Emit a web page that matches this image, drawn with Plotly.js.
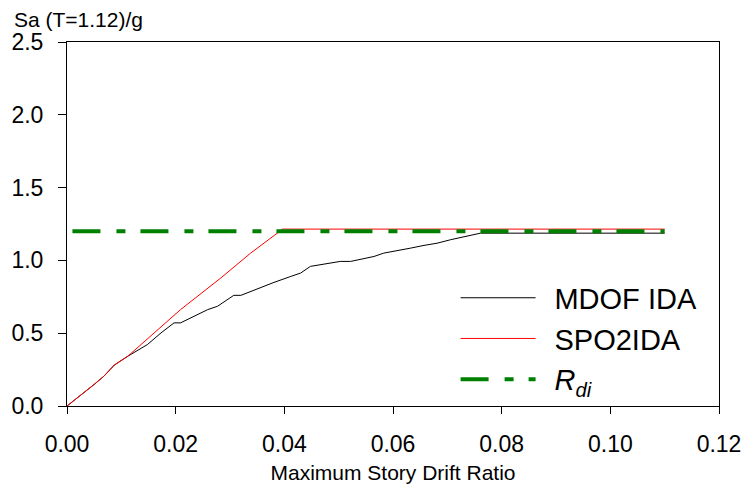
<!DOCTYPE html>
<html>
<head>
<meta charset="utf-8">
<script src="https://cdn.plot.ly/plotly-3.0.1.min.js"></script>
<style>html,body{margin:0;padding:0;background:#fff;}#chart{width:743px;height:484px;}</style>
</head>
<body>
<div id="chart"></div>
<script>
// MDOF IDA curve (max story drift ratio, Sa/g)
const mdofDrift = [0, 0.0032, 0.005, 0.0068, 0.0087, 0.0112, 0.0148, 0.0173, 0.0197, 0.0209, 0.024, 0.0259, 0.0277, 0.0307, 0.032, 0.035, 0.0381, 0.0412, 0.043, 0.0448, 0.0467, 0.0485, 0.0503, 0.0522, 0.0546, 0.0565, 0.0583, 0.0608, 0.0632, 0.0657, 0.0681, 0.0706, 0.0736, 0.0761, 0.11];
const mdofSa    = [0, 0.091, 0.148, 0.205, 0.281, 0.342, 0.422, 0.502, 0.571, 0.571, 0.628, 0.662, 0.685, 0.76, 0.76, 0.806, 0.849, 0.89, 0.913, 0.959, 0.970, 0.982, 0.993, 0.993, 1.011, 1.027, 1.05, 1.066, 1.084, 1.103, 1.118, 1.142, 1.164, 1.187, 1.187];
// SPO2IDA curve
const spoDrift = [0, 0.0032, 0.005, 0.0068, 0.0087, 0.0112, 0.0209, 0.0283, 0.0338, 0.0387, 0.0396, 0.11];
const spoSa    = [0, 0.091, 0.148, 0.205, 0.281, 0.342, 0.662, 0.879, 1.05, 1.187, 1.215, 1.215];
// R_di level
const rdiDrift = [0.001, 0.11];
const rdiSa    = [1.2, 1.2];
// tick labels
const xTicks = [0, 0.02, 0.04, 0.06, 0.08, 0.10, 0.12];
const xTickText = ["0.00", "0.02", "0.04", "0.06", "0.08", "0.10", "0.12"];
const yTicks = [0, 0.5, 1.0, 1.5, 2.0, 2.5];
const yTickText = ["0.0", "0.5", "1.0", "1.5", "2.0", "2.5"];

const FONT = "Arial, 'Liberation Sans', sans-serif";

const traces = [
  {x: mdofDrift, y: mdofSa, mode: "lines", name: "\u00a0\u2009MDOF IDA",
   line: {color: "#000000", width: 1}},
  {x: spoDrift, y: spoSa, mode: "lines", name: "\u00a0\u2009SPO2IDA",
   line: {color: "#ff0000", width: 1}},
  {x: rdiDrift, y: rdiSa, mode: "lines", name: "\u00a0\u2009<i>R</i><sub><i>di</i></sub>",
   line: {color: "#008000", width: 4, dash: "28px,16px,9px,15px"}}
];

const layout = {
  width: 743, height: 484,
  margin: {l: 67, r: 24, t: 42, b: 78},
  paper_bgcolor: "#ffffff", plot_bgcolor: "#ffffff",
  font: {family: FONT, color: "#000000"},
  showlegend: true,
  legend: {x: 0.596, xanchor: "left", y: 0.367, yanchor: "top",
           font: {size: 29, family: FONT}, itemwidth: 75, tracegroupgap: 0,
           bgcolor: "rgba(0,0,0,0)", borderwidth: 0},
  xaxis: {range: [0, 0.12], tickvals: xTicks, ticktext: xTickText,
          showgrid: false, zeroline: false, showline: true, linecolor: "#000", linewidth: 1,
          mirror: true, ticks: "outside", ticklen: 7, tickcolor: "#000",
          tickfont: {size: 23, family: FONT}, ticklabelstandoff: 10,
          title: {text: "Maximum Story Drift Ratio", font: {size: 21, family: FONT}, standoff: 13}},
  yaxis: {range: [0, 2.5], tickvals: yTicks, ticktext: yTickText,
          showgrid: false, zeroline: false, showline: true, linecolor: "#000", linewidth: 1,
          mirror: true, ticks: "outside", ticklen: 8, tickcolor: "#000",
          tickfont: {size: 23, family: FONT}, ticklabelstandoff: 10},
  annotations: [{text: "Sa (T=1.12)/g", xref: "paper", yref: "paper", x: -0.085, y: 1.062,
                 xanchor: "left", yanchor: "middle", showarrow: false,
                 font: {size: 21, family: FONT, color: "#000"}}]
};

Plotly.newPlot("chart", traces, layout, {displayModeBar: false, staticPlot: true});
</script>
</body>
</html>
